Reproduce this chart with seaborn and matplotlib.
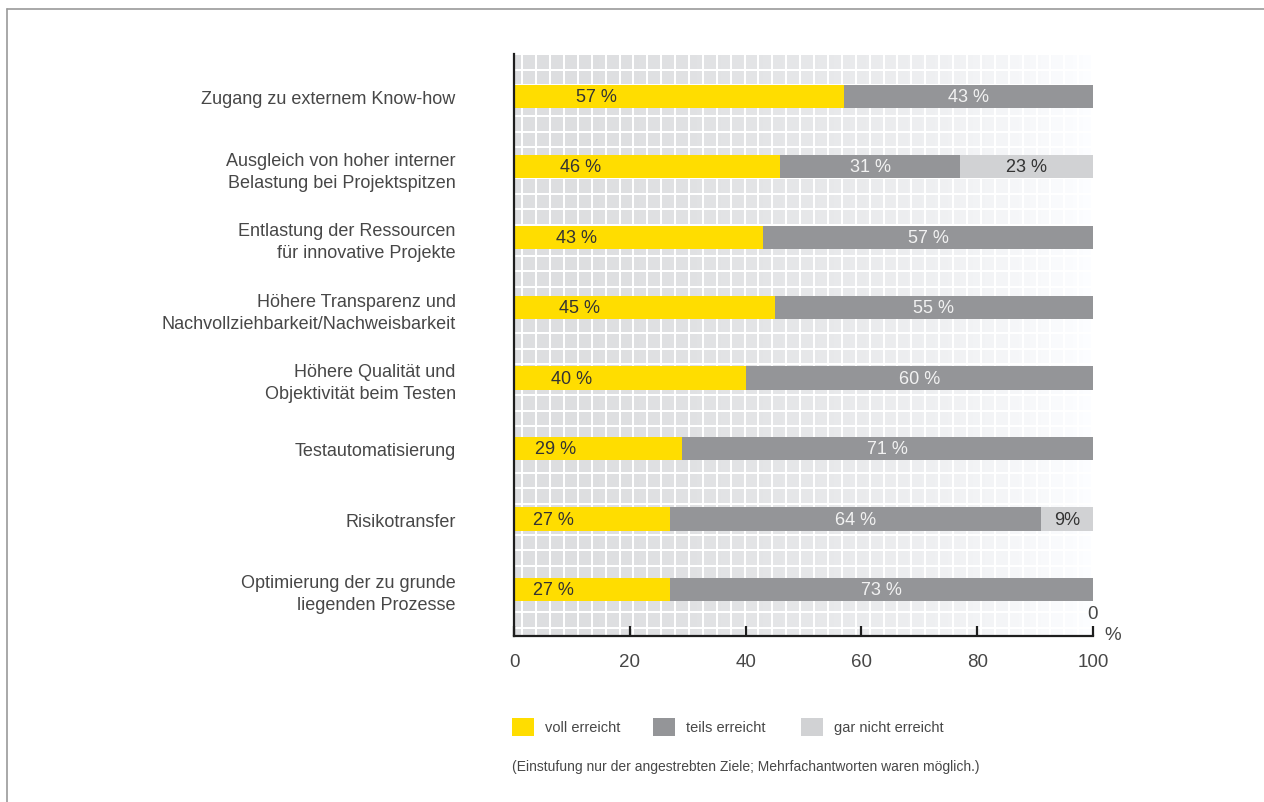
import numpy as np
import pandas as pd
import matplotlib
matplotlib.use("Agg")
import matplotlib.pyplot as plt
from matplotlib.patches import Rectangle
from matplotlib.lines import Line2D
import seaborn as sns

# ---- data -------------------------------------------------------------
categories = [
    "Zugang zu externem Know-how",
    "Ausgleich von hoher interner\nBelastung bei Projektspitzen",
    "Entlastung der Ressourcen\nfür innovative Projekte",
    "Höhere Transparenz und\nNachvollziehbarkeit/Nachweisbarkeit",
    "Höhere Qualität und\nObjektivität beim Testen",
    "Testautomatisierung",
    "Risikotransfer",
    "Optimierung der zu grunde\nliegenden Prozesse",
]
voll = [57, 46, 43, 45, 40, 29, 27, 27]
teils = [43, 31, 57, 55, 60, 71, 64, 73]
gar_nicht = [0, 23, 0, 0, 0, 0, 9, 0]
series_names = ["voll erreicht", "teils erreicht", "gar nicht erreicht"]
x_ticks = [0, 20, 40, 60, 80, 100]
footnote = "(Einstufung nur der angestrebten Ziele; Mehrfachantworten waren möglich.)"

# ---- style ------------------------------------------------------------
sns.set_style("white")
plt.rcParams["font.family"] = ["Liberation Sans", "DejaVu Sans"]
C_VOLL = "#ffdd00"
C_TEILS = "#949598"
C_GAR = "#d1d2d4"
TXT = "#474747"

W, H = 1264, 803
fig = plt.figure(figsize=(W / 100, H / 100), dpi=100)

def fx(px):
    return px / W

def fy(py):
    return 1 - py / H

ax_l, ax_r, ax_t, ax_b = 514, 1093, 55, 637
ax = fig.add_axes([fx(ax_l), fy(ax_b), fx(ax_r - ax_l), (ax_b - ax_t) / H])

y_top, y_bot = -0.60, 7.66

# ---- tiled background fading to white ---------------------------------
pw, ph = ax_r - ax_l, ax_b - ax_t
xs = np.arange(pw)
ys = np.arange(ph)
shade = 221 + 32 * (xs / pw) ** 1.8
img = np.zeros((ph, pw, 3))
img[:, :, 0] = shade
img[:, :, 1] = shade + 1
img[:, :, 2] = np.minimum(shade + 3, 255)
col_lines = ((xs - 6.7) % 13.9) < 2.0
row_lines = ((ys - 14.3) % 15.5) < 2.0
img[:, col_lines, :] = 255
img[row_lines, :, :] = 255
img = np.clip(img, 0, 255) / 255.0
ax.imshow(img, extent=(0, 100, y_bot, y_top), aspect="auto",
          interpolation="nearest", zorder=0)

# ---- stacked bars (drawn as overlapping cumulative totals) ------------
df = pd.DataFrame({"Ziel": categories, "voll": voll, "teils": teils, "gar": gar_nicht})
df["sum2"] = df["voll"] + df["teils"]
df["sum3"] = df["sum2"] + df["gar"]

for col, color in [("sum3", C_GAR), ("sum2", C_TEILS), ("voll", C_VOLL)]:
    sns.barplot(data=df, x=col, y="Ziel", orient="h", color=color,
                saturation=1, width=0.33, linewidth=0, errorbar=None,
                ax=ax, zorder=2)

# ---- value labels -----------------------------------------------------
for i, (v, t, g) in enumerate(zip(voll, teils, gar_nicht)):
    ax.text(v * 0.25, i, f"{v} %", ha="center", va="center",
            fontsize=13, color="#333333", zorder=3)
    ax.text(v + t / 2, i, f"{t} %", ha="center", va="center",
            fontsize=13, color="#f2f2f2", zorder=3)
    if g:
        lab = f"{g} %" if g >= 10 else f"{g}%"
        ax.text(v + t + g / 2, i, lab, ha="center", va="center",
                fontsize=13, color="#333333", zorder=3)

# ---- axes -------------------------------------------------------------
ax.set_xlim(0, 100)
ax.set_ylim(y_bot, y_top)
ax.set_xlabel("")
ax.set_ylabel("")
ax.set_xticks(x_ticks)
ax.set_xticklabels([str(t) for t in x_ticks])
for s in ["top", "right"]:
    ax.spines[s].set_visible(False)
for s in ["left", "bottom"]:
    ax.spines[s].set_color("#1e1e1e")
    ax.spines[s].set_linewidth(1.6)
    ax.spines[s].set_zorder(4)
ax.tick_params(axis="x", bottom=True, direction="in", length=7, width=1.6,
               color="#1e1e1e", pad=12, labelsize=13.5, labelcolor=TXT)
ax.tick_params(axis="y", left=False, length=0, pad=42, labelsize=13, labelcolor=TXT)
for lab in ax.get_yticklabels():
    lab.set_ha("right")
    lab.set_multialignment("right")
    lab.set_linespacing(1.38)

fig.text(fx(1093), fy(615), "0", ha="center", va="center", fontsize=13.5, color=TXT)
fig.text(fx(1113), fy(636), "%", ha="center", va="center", fontsize=13.5, color=TXT)

# ---- legend -----------------------------------------------------------
legend_items = [(C_VOLL, 512, 545), (C_TEILS, 653, 686), (C_GAR, 801, 834)]
for (color, px, tx), name in zip(legend_items, series_names):
    fig.add_artist(Rectangle((fx(px), fy(737)), fx(22), 18 / H,
                             transform=fig.transFigure, facecolor=color,
                             edgecolor="none"))
    fig.text(fx(tx), fy(728), name, ha="left", va="center",
             fontsize=10.5, color=TXT)

fig.text(fx(512), fy(767), footnote, ha="left", va="center",
         fontsize=10, color=TXT)

# ---- outer frame (top and left edges) ---------------------------------
fig.add_artist(Line2D([fx(7), fx(7)], [fy(10), 0], transform=fig.transFigure,
                      color="#9a9a9a", linewidth=1.2))
fig.add_artist(Line2D([fx(7), 1], [fy(10), fy(10)], transform=fig.transFigure,
                      color="#9a9a9a", linewidth=1.2))

fig.savefig("out.png", dpi=100, facecolor="white")
